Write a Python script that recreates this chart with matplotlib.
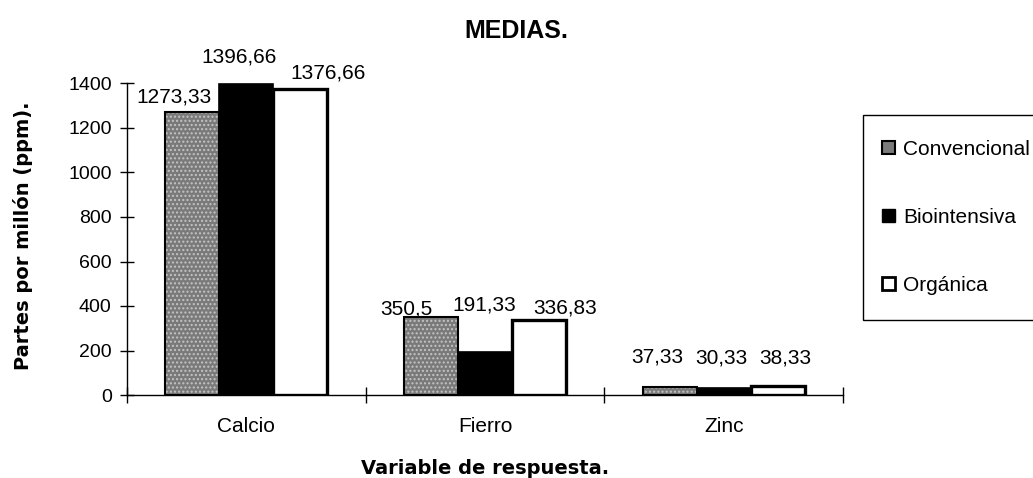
import matplotlib
matplotlib.use("Agg")
import matplotlib.pyplot as plt
import matplotlib.transforms as mtransforms
from matplotlib.patches import Patch, Rectangle
import numpy as np

categories = ["Calcio", "Fierro", "Zinc"]
series = ["Convencional", "Biointensiva", "Orgánica"]
convencional = [1273.33, 350.5, 37.33]
biointensiva = [1396.66, 191.33, 30.33]
organica = [1376.66, 336.83, 38.33]
labels_conv = ["1273,33", "350,5", "37,33"]
labels_bio = ["1396,66", "191,33", "30,33"]
labels_org = ["1376,66", "336,83", "38,33"]
yticks = [0, 200, 400, 600, 800, 1000, 1200, 1400]

# nudges (pixels) of the data labels, as laid out in the original
nudge_x = [[-18, -25, -12], [-7, -1, -2], [28, 26, 8]]
nudge_y = [[9, 3, 24], [22, 42, 25], [10, 7, 23]]

plt.rcParams['font.family'] = ['Liberation Sans', 'DejaVu Sans']

fig = plt.figure(figsize=(10.33, 4.78), dpi=100)
ax = fig.add_axes([127/1033, 1-395/478, (843-127)/1033, (395-83.5)/478])

x = np.arange(len(categories))
w = 0.226
labs = [labels_conv, labels_bio, labels_org]
px2pt = 72 / 100

# Convencional: stippled gray
ax.bar(x - w, convencional, w, facecolor="#7a7a7a", edgecolor="#c4c4c4",
       hatch="....", linewidth=0, zorder=3)
b_conv = ax.bar(x - w, convencional, w, facecolor="none", edgecolor="black",
                linewidth=1.5, zorder=4)
b_bio = ax.bar(x, biointensiva, w, facecolor="black", edgecolor="black",
               linewidth=1.2, zorder=3)
b_org = ax.bar(x + w, organica, w, facecolor="white", edgecolor="black",
               linewidth=2.4, zorder=3)

for b, lab, ndx, ndy in zip([b_conv, b_bio, b_org], labs, nudge_x, nudge_y):
    for rect, t, dx, dy in zip(b, lab, ndx, ndy):
        ax.annotate(t, (rect.get_x() + rect.get_width() / 2, rect.get_height()),
                    xytext=(dx * px2pt, dy * px2pt), textcoords="offset points",
                    ha="center", va="baseline", fontsize=15, zorder=5,
                    annotation_clip=False)

ax.set_xlim(-0.5, 2.5)
ax.set_ylim(0, 1400)
ax.set_yticks(yticks)
ax.set_yticklabels([str(v) for v in yticks], fontsize=14)
ax.tick_params(axis="y", direction="inout", length=10, width=1, pad=6)
ax.set_xticks([-0.5, 0.5, 1.5, 2.5])
ax.set_xticklabels([])
ax.tick_params(axis="x", direction="inout", length=12, width=1)
blend = mtransforms.blended_transform_factory(ax.transData, fig.transFigure)
for c, cx in zip(categories, x):
    ax.text(cx, 1 - 426/478, c, transform=blend,
            ha="center", va="center", fontsize=15)
for s in ["top", "right"]:
    ax.spines[s].set_visible(False)
ax.spines["left"].set_linewidth(1)
ax.spines["bottom"].set_linewidth(1)

fig.text(23/1033, 1-236/478, "Partes por millón (ppm).", rotation=90,
         ha="center", va="center", fontsize=14, fontweight="bold",
         family="DejaVu Sans")
fig.text(485/1033, 1-469/478, "Variable de respuesta.", ha="center",
         va="center", fontsize=14, fontweight="bold", family="DejaVu Sans")
fig.text(516/1033, 1-31/478, "MEDIAS.", ha="center", va="center",
         fontsize=18, fontweight="bold")

# legend frame (runs off the right edge as in the original)
fig.patches.append(Rectangle((863/1033, 1-320/478), 200/1033, 205/478,
                             transform=fig.transFigure, facecolor="white",
                             edgecolor="black", linewidth=1, zorder=0))
handles = [Patch(facecolor="#7a7a7a", edgecolor="black", linewidth=1.5),
           Patch(facecolor="black", edgecolor="black"),
           Patch(facecolor="white", edgecolor="black", linewidth=2)]
leg = fig.legend(handles, series, loc="upper left",
                 bbox_to_anchor=(882/1033, 1-140/478),
                 frameon=False, fontsize=15, labelspacing=2.35, borderpad=0,
                 handlelength=0.6, handleheight=0.6, handletextpad=0.4,
                 borderaxespad=0)

fig.savefig("out.png", dpi=100)
